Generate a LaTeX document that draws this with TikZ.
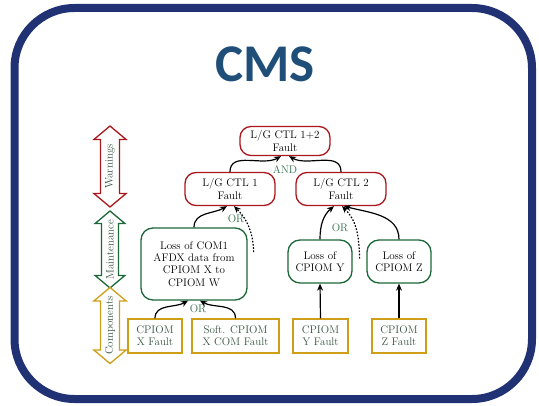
\documentclass[tikz,border=0pt]{standalone}
\usepackage{fontspec}
\newfontfamily\titlefont{Carlito}
\usepackage{xcolor}
\usetikzlibrary{arrows.meta,shapes.arrows}

\definecolor{framebl}{RGB}{32,50,116}
\definecolor{titlebl}{RGB}{31,78,121}
\definecolor{warnred}{RGB}{170,24,30}
\definecolor{maintgr}{RGB}{28,104,56}
\definecolor{compyel}{RGB}{206,158,24}
\definecolor{labgr}{RGB}{50,110,75}
\definecolor{txtgr}{RGB}{55,85,65}

\tikzset{
  box/.style={line width=1.3pt, fill=white, align=center, inner sep=2pt,
    font=\fontsize{11}{12.3}\selectfont},
  warnbox/.style={box, draw=warnred, rounded corners=11pt},
  maintbox/.style={box, draw=maintgr, rounded corners=12pt},
  compbox/.style={box, draw=compyel, text=txtgr},
  levelarrow/.style={double arrow, rotate=90, line width=1.3pt, fill=white,
    inner xsep=0pt, inner ysep=4pt, double arrow head extend=6.5pt,
    double arrow tip angle=100, text=txtgr, font=\fontsize{11}{12}\selectfont},
  conn/.style={-{Stealth[length=7pt,width=6pt]}, line width=1.2pt},
  dotconn/.style={conn, dash pattern=on 1.6pt off 1.6pt},
  gatelab/.style={text=labgr, font=\fontsize{11}{12}\selectfont, inner sep=1pt}
}

\begin{document}
\begin{tikzpicture}[x=1pt, y=1pt]
  \useasboundingbox (0,0) rectangle (539,405);
  % 外框
  \draw[framebl, line width=8pt, rounded corners=60pt] (14.5,6) rectangle (532,397);
  % 标题
  \node[font=\titlefont\bfseries\fontsize{53}{58}\selectfont, text=titlebl] (title) at (265,341) {CMS};
  % 层级箭头
  \node[levelarrow, draw=warnred, minimum height=81pt] (warnlvl) at (110,238.5) {Warnings};
  \node[levelarrow, draw=maintgr, minimum height=77pt] (maintlvl) at (110,155.5) {Maintenance};
  \node[levelarrow, draw=compyel, minimum height=71pt] (complvl) at (110,79.5) {Components};
  % 告警
  \node[warnbox, minimum width=90pt, minimum height=29pt] (ctl12) at (285,264) {L/G CTL 1+2\\Fault};
  \node[warnbox, minimum width=90pt, minimum height=33pt] (ctl1) at (230,216) {L/G CTL 1\\Fault};
  \node[warnbox, minimum width=90pt, minimum height=33pt] (ctl2) at (341,216) {L/G CTL 2\\Fault};
  % 维护
  \node[maintbox, minimum width=106pt, minimum height=72pt] (com1) at (194,141)
    {Loss of COM1\\AFDX data from\\CPIOM X to\\CPIOM W};
  \node[maintbox, minimum width=64pt, minimum height=43pt] (lossy) at (320,143.5) {Loss of\\CPIOM Y};
  \node[maintbox, minimum width=64pt, minimum height=43pt] (lossz) at (399,143.5) {Loss of\\CPIOM Z};
  % 部件
  \node[compbox, minimum width=54pt, minimum height=34pt] (cx) at (155,69) {CPIOM\\X Fault};
  \node[compbox, minimum width=87pt, minimum height=34pt] (soft) at (235.5,69) {Soft. CPIOM\\X COM Fault};
  \node[compbox, minimum width=55pt, minimum height=34pt] (cy) at (320.5,69) {CPIOM\\Y Fault};
  \node[compbox, minimum width=54pt, minimum height=34pt] (cz) at (399,69) {CPIOM\\Z Fault};
  % 连线
  \draw[conn] (ctl1.north) to[out=90,in=-150] ([xshift=-4pt]ctl12.south);
  \draw[conn] (ctl2.north) to[out=90,in=-30] ([xshift=4pt]ctl12.south);
  \node[gatelab] (andlab) at (285,235) {AND};

  \coordinate (dot1) at ([xshift=6pt,yshift=12pt]com1.east);
  \draw[conn] (com1.north) to[out=90,in=-150] ([xshift=-3pt]ctl1.south);
  \draw[dotconn] (dot1) to[out=92,in=-45] ([xshift=4pt]ctl1.south);
  \node[gatelab] (orlab1) at (236,186) {OR};

  \coordinate (dot2) at ([xshift=7pt,yshift=3pt]lossy.east);
  \draw[conn] (lossy.north) to[out=90,in=-140] ([xshift=-7pt]ctl2.south);
  \draw[dotconn] (dot2) to[out=92,in=-45] ([xshift=1pt]ctl2.south);
  \draw[conn] (lossz.north) to[out=90,in=-15] ([xshift=3pt]ctl2.south);
  \node[gatelab] (orlab2) at (340,177) {OR};

  \draw[conn] (cx.north) to[out=90,in=-150] ([xshift=-6pt]com1.south);
  \draw[conn] (soft.north) to[out=90,in=-30] ([xshift=6pt]com1.south);
  \node[gatelab] (orlab3) at (198,96) {OR};
  \draw[conn] (cy.north) -- (lossy.south);
  \draw[conn] (cz.north) -- (lossz.south);
\end{tikzpicture}
\end{document}
